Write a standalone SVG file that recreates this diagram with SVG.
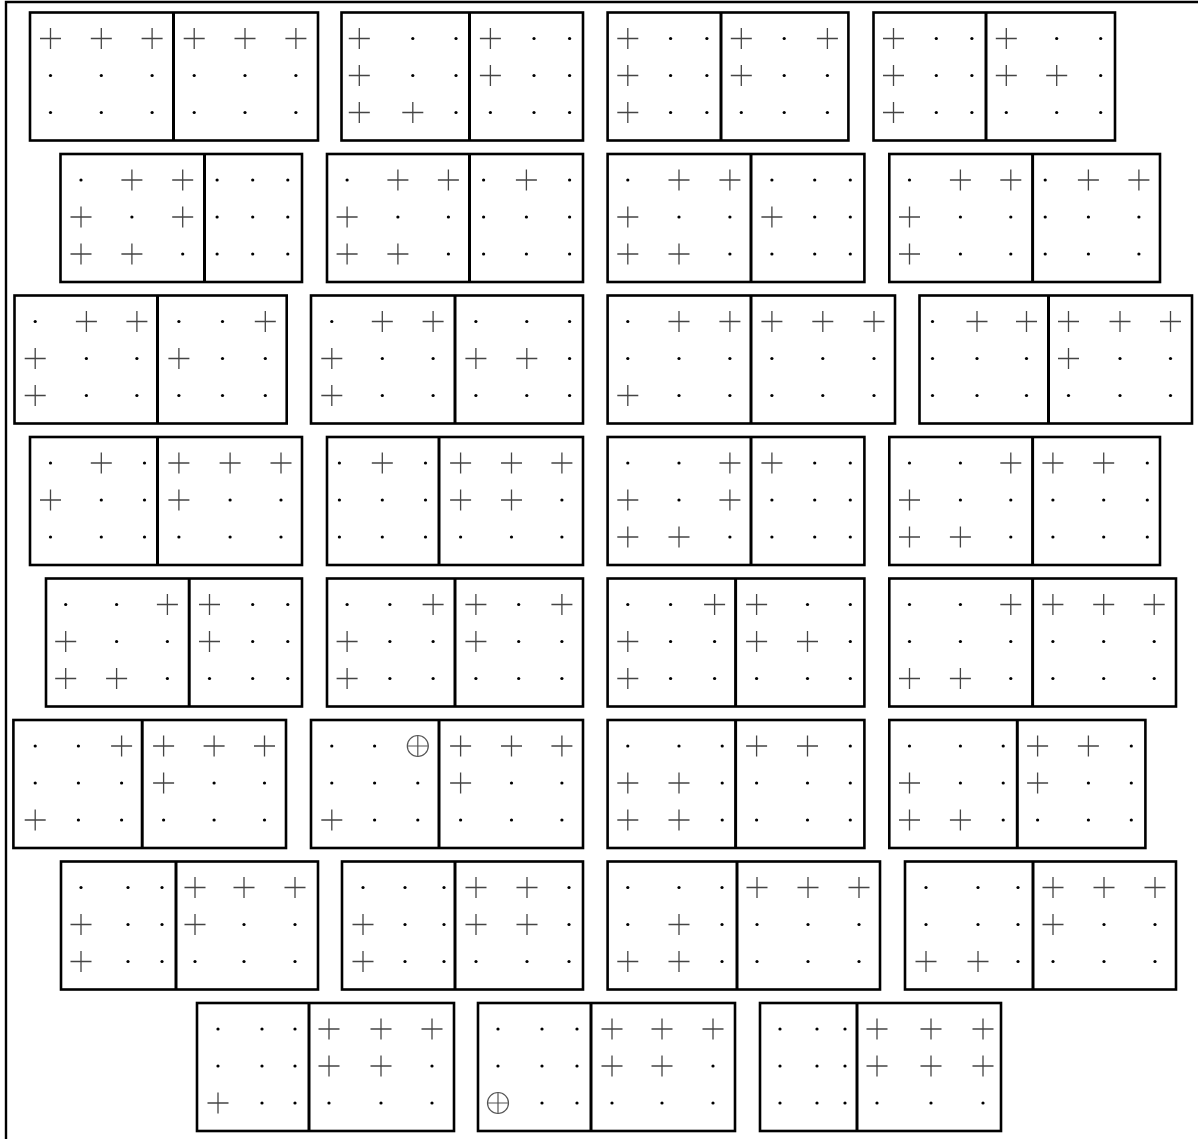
<svg xmlns="http://www.w3.org/2000/svg" xmlns:xlink="http://www.w3.org/1999/xlink" width="1198" height="1139" viewBox="0 0 1198 1139">
<style>
.bx{fill:#fff;stroke:#000;stroke-width:2.6}
.dv{stroke:#000;stroke-width:3}
.fr{stroke:#000;stroke-width:2.4;fill:none}
</style>
<defs>
<path id="p" d="M-10.5 0H10.5M0-10.5V10.5" stroke="#444" stroke-width="1.3" fill="none"/>
<circle id="d" r="1.6" fill="#000"/>
<g id="o" stroke="#555" stroke-width="1.2" fill="none"><circle r="10.5"/><path d="M-10.5 0H10.5M0-10.5V10.5"/></g>
</defs>
<rect width="1198" height="1139" fill="#fff"/>
<g id="frame"><path class="fr" d="M6 1139V2H1198"/></g>
<g id="connectors"></g>

<g id="b1a" transform="translate(0,12.5)"><rect class="bx" x="30" y="0" width="288" height="128"/><line class="dv" x1="173.5" y1="0" x2="173.5" y2="128"/>
<use href="#p" x="50.5" y="26"/><use href="#p" x="101.3" y="26"/><use href="#p" x="152.1" y="26"/><use href="#p" x="194.2" y="26"/><use href="#p" x="245" y="26"/><use href="#p" x="295.9" y="26"/>
<use href="#d" x="50.5" y="63"/><use href="#d" x="101.3" y="63"/><use href="#d" x="152.1" y="63"/><use href="#d" x="194.2" y="63"/><use href="#d" x="245" y="63"/><use href="#d" x="295.9" y="63"/>
<use href="#d" x="50.5" y="100"/><use href="#d" x="101.3" y="100"/><use href="#d" x="152.1" y="100"/><use href="#d" x="194.2" y="100"/><use href="#d" x="245" y="100"/><use href="#d" x="295.9" y="100"/></g>

<g id="b1b" transform="translate(0,12.5)"><rect class="bx" x="341.5" y="0" width="241.5" height="128"/><line class="dv" x1="469.5" y1="0" x2="469.5" y2="128"/>
<use href="#p" x="359.3" y="26"/><use href="#d" x="412.8" y="26"/><use href="#d" x="456" y="26"/><use href="#p" x="490.4" y="26"/><use href="#d" x="534" y="26"/><use href="#d" x="569.6" y="26"/>
<use href="#p" x="359.3" y="63"/><use href="#d" x="412.8" y="63"/><use href="#d" x="456" y="63"/><use href="#p" x="490.4" y="63"/><use href="#d" x="534" y="63"/><use href="#d" x="569.6" y="63"/>
<use href="#p" x="359.3" y="100"/><use href="#p" x="412.8" y="100"/><use href="#d" x="456" y="100"/><use href="#d" x="490.4" y="100"/><use href="#d" x="534" y="100"/><use href="#d" x="569.6" y="100"/></g>

<g id="b1c" transform="translate(0,12.5)"><rect class="bx" x="607.6" y="0" width="240.8" height="128"/><line class="dv" x1="721" y1="0" x2="721" y2="128"/>
<use href="#p" x="627.8" y="26"/><use href="#d" x="670.6" y="26"/><use href="#d" x="706.9" y="26"/><use href="#p" x="741.3" y="26"/><use href="#d" x="784.2" y="26"/><use href="#p" x="827.4" y="26"/>
<use href="#p" x="627.8" y="63"/><use href="#d" x="670.6" y="63"/><use href="#d" x="706.9" y="63"/><use href="#p" x="741.3" y="63"/><use href="#d" x="784.2" y="63"/><use href="#d" x="827.4" y="63"/>
<use href="#p" x="627.8" y="100"/><use href="#d" x="670.6" y="100"/><use href="#d" x="706.9" y="100"/><use href="#d" x="741.3" y="100"/><use href="#d" x="784.2" y="100"/><use href="#d" x="827.4" y="100"/></g>

<g id="b1d" transform="translate(0,12.5)"><rect class="bx" x="873.5" y="0" width="241.5" height="128"/><line class="dv" x1="986" y1="0" x2="986" y2="128"/>
<use href="#p" x="893.5" y="26"/><use href="#d" x="936.3" y="26"/><use href="#d" x="971.9" y="26"/><use href="#p" x="1006.3" y="26"/><use href="#d" x="1056.7" y="26"/><use href="#d" x="1100.7" y="26"/>
<use href="#p" x="893.5" y="63"/><use href="#d" x="936.3" y="63"/><use href="#d" x="971.9" y="63"/><use href="#p" x="1006.3" y="63"/><use href="#p" x="1056.7" y="63"/><use href="#d" x="1100.7" y="63"/>
<use href="#p" x="893.5" y="100"/><use href="#d" x="936.3" y="100"/><use href="#d" x="971.9" y="100"/><use href="#d" x="1006.3" y="100"/><use href="#d" x="1056.7" y="100"/><use href="#d" x="1100.7" y="100"/></g>

<g id="b2a" transform="translate(0,154)"><rect class="bx" x="60.5" y="0" width="241.5" height="128"/><line class="dv" x1="204.5" y1="0" x2="204.5" y2="128"/>
<use href="#d" x="81" y="26"/><use href="#p" x="131.9" y="26"/><use href="#p" x="182.7" y="26"/><use href="#d" x="217.1" y="26"/><use href="#d" x="252.7" y="26"/><use href="#d" x="287.8" y="26"/>
<use href="#p" x="81" y="63"/><use href="#d" x="131.9" y="63"/><use href="#p" x="182.7" y="63"/><use href="#d" x="217.1" y="63"/><use href="#d" x="252.7" y="63"/><use href="#d" x="287.8" y="63"/>
<use href="#p" x="81" y="100"/><use href="#p" x="131.9" y="100"/><use href="#d" x="182.7" y="100"/><use href="#d" x="217.1" y="100"/><use href="#d" x="252.7" y="100"/><use href="#d" x="287.8" y="100"/></g>

<g id="b2b" transform="translate(0,154)"><rect class="bx" x="327" y="0" width="256" height="128"/><line class="dv" x1="469.5" y1="0" x2="469.5" y2="128"/>
<use href="#d" x="347.1" y="26"/><use href="#p" x="397.9" y="26"/><use href="#p" x="448.4" y="26"/><use href="#d" x="483.6" y="26"/><use href="#p" x="526.4" y="26"/><use href="#d" x="569.6" y="26"/>
<use href="#p" x="347.1" y="63"/><use href="#d" x="397.9" y="63"/><use href="#d" x="448.4" y="63"/><use href="#d" x="483.6" y="63"/><use href="#d" x="526.4" y="63"/><use href="#d" x="569.6" y="63"/>
<use href="#p" x="347.1" y="100"/><use href="#p" x="397.9" y="100"/><use href="#d" x="448.4" y="100"/><use href="#d" x="483.6" y="100"/><use href="#d" x="526.4" y="100"/><use href="#d" x="569.6" y="100"/></g>

<g id="b2c" transform="translate(0,154)"><rect class="bx" x="607.6" y="0" width="256.8" height="128"/><line class="dv" x1="751" y1="0" x2="751" y2="128"/>
<use href="#d" x="627.8" y="26"/><use href="#p" x="679" y="26"/><use href="#p" x="729.9" y="26"/><use href="#d" x="771.9" y="26"/><use href="#d" x="814.7" y="26"/><use href="#d" x="850.3" y="26"/>
<use href="#p" x="627.8" y="63"/><use href="#d" x="679" y="63"/><use href="#d" x="729.9" y="63"/><use href="#p" x="771.9" y="63"/><use href="#d" x="814.7" y="63"/><use href="#d" x="850.3" y="63"/>
<use href="#p" x="627.8" y="100"/><use href="#p" x="679" y="100"/><use href="#d" x="729.9" y="100"/><use href="#d" x="771.9" y="100"/><use href="#d" x="814.7" y="100"/><use href="#d" x="850.3" y="100"/></g>

<g id="b2d" transform="translate(0,154)"><rect class="bx" x="889.3" y="0" width="270.7" height="128"/><line class="dv" x1="1032.6" y1="0" x2="1032.6" y2="128"/>
<use href="#d" x="909.5" y="26"/><use href="#p" x="960.4" y="26"/><use href="#p" x="1010.8" y="26"/><use href="#d" x="1045.2" y="26"/><use href="#p" x="1088.4" y="26"/><use href="#p" x="1138.9" y="26"/>
<use href="#p" x="909.5" y="63"/><use href="#d" x="960.4" y="63"/><use href="#d" x="1010.8" y="63"/><use href="#d" x="1045.2" y="63"/><use href="#d" x="1088.4" y="63"/><use href="#d" x="1138.9" y="63"/>
<use href="#p" x="909.5" y="100"/><use href="#d" x="960.4" y="100"/><use href="#d" x="1010.8" y="100"/><use href="#d" x="1045.2" y="100"/><use href="#d" x="1088.4" y="100"/><use href="#d" x="1138.9" y="100"/></g>

<g id="b3a" transform="translate(0,295.5)"><rect class="bx" x="14.5" y="0" width="272.2" height="128"/><line class="dv" x1="157.5" y1="0" x2="157.5" y2="128"/>
<use href="#d" x="35.2" y="26"/><use href="#p" x="86.4" y="26"/><use href="#p" x="136.9" y="26"/><use href="#d" x="178.9" y="26"/><use href="#d" x="222.5" y="26"/><use href="#p" x="265.3" y="26"/>
<use href="#p" x="35.2" y="63"/><use href="#d" x="86.4" y="63"/><use href="#d" x="136.9" y="63"/><use href="#p" x="178.9" y="63"/><use href="#d" x="222.5" y="63"/><use href="#d" x="265.3" y="63"/>
<use href="#p" x="35.2" y="100"/><use href="#d" x="86.4" y="100"/><use href="#d" x="136.9" y="100"/><use href="#d" x="178.9" y="100"/><use href="#d" x="222.5" y="100"/><use href="#d" x="265.3" y="100"/></g>

<g id="b3b" transform="translate(0,295.5)"><rect class="bx" x="311" y="0" width="272" height="128"/><line class="dv" x1="455" y1="0" x2="455" y2="128"/>
<use href="#d" x="331.8" y="26"/><use href="#p" x="382.3" y="26"/><use href="#p" x="433.1" y="26"/><use href="#d" x="475.9" y="26"/><use href="#d" x="526.8" y="26"/><use href="#d" x="569.6" y="26"/>
<use href="#p" x="331.8" y="63"/><use href="#d" x="382.3" y="63"/><use href="#d" x="433.1" y="63"/><use href="#p" x="475.9" y="63"/><use href="#p" x="526.8" y="63"/><use href="#d" x="569.6" y="63"/>
<use href="#p" x="331.8" y="100"/><use href="#d" x="382.3" y="100"/><use href="#d" x="433.1" y="100"/><use href="#d" x="475.9" y="100"/><use href="#d" x="526.8" y="100"/><use href="#d" x="569.6" y="100"/></g>

<g id="b3c" transform="translate(0,295.5)"><rect class="bx" x="607.6" y="0" width="287.4" height="128"/><line class="dv" x1="751" y1="0" x2="751" y2="128"/>
<use href="#d" x="627.8" y="26"/><use href="#p" x="679" y="26"/><use href="#p" x="729.9" y="26"/><use href="#p" x="771.9" y="26"/><use href="#p" x="822.8" y="26"/><use href="#p" x="874" y="26"/>
<use href="#d" x="627.8" y="63"/><use href="#d" x="679" y="63"/><use href="#d" x="729.9" y="63"/><use href="#d" x="771.9" y="63"/><use href="#d" x="822.8" y="63"/><use href="#d" x="874" y="63"/>
<use href="#p" x="627.8" y="100"/><use href="#d" x="679" y="100"/><use href="#d" x="729.9" y="100"/><use href="#d" x="771.9" y="100"/><use href="#d" x="822.8" y="100"/><use href="#d" x="874" y="100"/></g>

<g id="b3d" transform="translate(0,295.5)"><rect class="bx" x="919.5" y="0" width="272.5" height="128"/><line class="dv" x1="1048.5" y1="0" x2="1048.5" y2="128"/>
<use href="#d" x="932.5" y="26"/><use href="#p" x="977" y="26"/><use href="#p" x="1026.5" y="26"/><use href="#p" x="1068.5" y="26"/><use href="#p" x="1120" y="26"/><use href="#p" x="1170.5" y="26"/>
<use href="#d" x="932.5" y="63"/><use href="#d" x="977" y="63"/><use href="#d" x="1026.5" y="63"/><use href="#p" x="1068.5" y="63"/><use href="#d" x="1120" y="63"/><use href="#d" x="1170.5" y="63"/>
<use href="#d" x="932.5" y="100"/><use href="#d" x="977" y="100"/><use href="#d" x="1026.5" y="100"/><use href="#d" x="1068.5" y="100"/><use href="#d" x="1120" y="100"/><use href="#d" x="1170.5" y="100"/></g>

<g id="b4a" transform="translate(0,437)"><rect class="bx" x="30" y="0" width="272" height="128"/><line class="dv" x1="157.5" y1="0" x2="157.5" y2="128"/>
<use href="#d" x="50.5" y="26"/><use href="#p" x="101.3" y="26"/><use href="#d" x="144.5" y="26"/><use href="#p" x="178.9" y="26"/><use href="#p" x="230.1" y="26"/><use href="#p" x="281" y="26"/>
<use href="#p" x="50.5" y="63"/><use href="#d" x="101.3" y="63"/><use href="#d" x="144.5" y="63"/><use href="#p" x="178.9" y="63"/><use href="#d" x="230.1" y="63"/><use href="#d" x="281" y="63"/>
<use href="#d" x="50.5" y="100"/><use href="#d" x="101.3" y="100"/><use href="#d" x="144.5" y="100"/><use href="#d" x="178.9" y="100"/><use href="#d" x="230.1" y="100"/><use href="#d" x="281" y="100"/></g>

<g id="b4b" transform="translate(0,437)"><rect class="bx" x="327" y="0" width="256" height="128"/><line class="dv" x1="439" y1="0" x2="439" y2="128"/>
<use href="#d" x="339.4" y="26"/><use href="#p" x="382.3" y="26"/><use href="#d" x="425.5" y="26"/><use href="#p" x="460.6" y="26"/><use href="#p" x="511.5" y="26"/><use href="#p" x="561.9" y="26"/>
<use href="#d" x="339.4" y="63"/><use href="#d" x="382.3" y="63"/><use href="#d" x="425.5" y="63"/><use href="#p" x="460.6" y="63"/><use href="#p" x="511.5" y="63"/><use href="#d" x="561.9" y="63"/>
<use href="#d" x="339.4" y="100"/><use href="#d" x="382.3" y="100"/><use href="#d" x="425.5" y="100"/><use href="#d" x="460.6" y="100"/><use href="#d" x="511.5" y="100"/><use href="#d" x="561.9" y="100"/></g>

<g id="b4c" transform="translate(0,437)"><rect class="bx" x="607.6" y="0" width="256.8" height="128"/><line class="dv" x1="751" y1="0" x2="751" y2="128"/>
<use href="#d" x="627.8" y="26"/><use href="#d" x="679" y="26"/><use href="#p" x="729.9" y="26"/><use href="#p" x="771.9" y="26"/><use href="#d" x="814.7" y="26"/><use href="#d" x="850.3" y="26"/>
<use href="#p" x="627.8" y="63"/><use href="#d" x="679" y="63"/><use href="#p" x="729.9" y="63"/><use href="#d" x="771.9" y="63"/><use href="#d" x="814.7" y="63"/><use href="#d" x="850.3" y="63"/>
<use href="#p" x="627.8" y="100"/><use href="#p" x="679" y="100"/><use href="#d" x="729.9" y="100"/><use href="#d" x="771.9" y="100"/><use href="#d" x="814.7" y="100"/><use href="#d" x="850.3" y="100"/></g>

<g id="b4d" transform="translate(0,437)"><rect class="bx" x="889.3" y="0" width="270.7" height="128"/><line class="dv" x1="1032.6" y1="0" x2="1032.6" y2="128"/>
<use href="#d" x="909.5" y="26"/><use href="#d" x="960.4" y="26"/><use href="#p" x="1010.8" y="26"/><use href="#p" x="1052.9" y="26"/><use href="#p" x="1103.7" y="26"/><use href="#d" x="1147.3" y="26"/>
<use href="#p" x="909.5" y="63"/><use href="#d" x="960.4" y="63"/><use href="#d" x="1010.8" y="63"/><use href="#d" x="1052.9" y="63"/><use href="#d" x="1103.7" y="63"/><use href="#d" x="1147.3" y="63"/>
<use href="#p" x="909.5" y="100"/><use href="#p" x="960.4" y="100"/><use href="#d" x="1010.8" y="100"/><use href="#d" x="1052.9" y="100"/><use href="#d" x="1103.7" y="100"/><use href="#d" x="1147.3" y="100"/></g>

<g id="b5a" transform="translate(0,578.5)"><rect class="bx" x="46" y="0" width="256" height="128"/><line class="dv" x1="189.2" y1="0" x2="189.2" y2="128"/>
<use href="#d" x="65.7" y="26"/><use href="#d" x="116.6" y="26"/><use href="#p" x="167.4" y="26"/><use href="#p" x="209.5" y="26"/><use href="#d" x="252.7" y="26"/><use href="#d" x="287.8" y="26"/>
<use href="#p" x="65.7" y="63"/><use href="#d" x="116.6" y="63"/><use href="#d" x="167.4" y="63"/><use href="#p" x="209.5" y="63"/><use href="#d" x="252.7" y="63"/><use href="#d" x="287.8" y="63"/>
<use href="#p" x="65.7" y="100"/><use href="#p" x="116.6" y="100"/><use href="#d" x="167.4" y="100"/><use href="#d" x="209.5" y="100"/><use href="#d" x="252.7" y="100"/><use href="#d" x="287.8" y="100"/></g>

<g id="b5b" transform="translate(0,578.5)"><rect class="bx" x="327" y="0" width="256" height="128"/><line class="dv" x1="455" y1="0" x2="455" y2="128"/>
<use href="#d" x="347.1" y="26"/><use href="#d" x="389.9" y="26"/><use href="#p" x="433.1" y="26"/><use href="#p" x="475.9" y="26"/><use href="#d" x="518.7" y="26"/><use href="#p" x="561.9" y="26"/>
<use href="#p" x="347.1" y="63"/><use href="#d" x="389.9" y="63"/><use href="#d" x="433.1" y="63"/><use href="#p" x="475.9" y="63"/><use href="#d" x="518.7" y="63"/><use href="#d" x="561.9" y="63"/>
<use href="#p" x="347.1" y="100"/><use href="#d" x="389.9" y="100"/><use href="#d" x="433.1" y="100"/><use href="#d" x="475.9" y="100"/><use href="#d" x="518.7" y="100"/><use href="#d" x="561.9" y="100"/></g>

<g id="b5c" transform="translate(0,578.5)"><rect class="bx" x="607.6" y="0" width="256.8" height="128"/><line class="dv" x1="735.6" y1="0" x2="735.6" y2="128"/>
<use href="#d" x="627.8" y="26"/><use href="#d" x="670.6" y="26"/><use href="#p" x="714.6" y="26"/><use href="#p" x="756.6" y="26"/><use href="#d" x="807.5" y="26"/><use href="#d" x="850.3" y="26"/>
<use href="#p" x="627.8" y="63"/><use href="#d" x="670.6" y="63"/><use href="#d" x="714.6" y="63"/><use href="#p" x="756.6" y="63"/><use href="#p" x="807.5" y="63"/><use href="#d" x="850.3" y="63"/>
<use href="#p" x="627.8" y="100"/><use href="#d" x="670.6" y="100"/><use href="#d" x="714.6" y="100"/><use href="#d" x="756.6" y="100"/><use href="#d" x="807.5" y="100"/><use href="#d" x="850.3" y="100"/></g>

<g id="b5d" transform="translate(0,578.5)"><rect class="bx" x="889.3" y="0" width="286.7" height="128"/><line class="dv" x1="1032.6" y1="0" x2="1032.6" y2="128"/>
<use href="#d" x="909.5" y="26"/><use href="#d" x="960.4" y="26"/><use href="#p" x="1010.8" y="26"/><use href="#p" x="1052.9" y="26"/><use href="#p" x="1103.7" y="26"/><use href="#p" x="1154.2" y="26"/>
<use href="#d" x="909.5" y="63"/><use href="#d" x="960.4" y="63"/><use href="#d" x="1010.8" y="63"/><use href="#d" x="1052.9" y="63"/><use href="#d" x="1103.7" y="63"/><use href="#d" x="1154.2" y="63"/>
<use href="#p" x="909.5" y="100"/><use href="#p" x="960.4" y="100"/><use href="#d" x="1010.8" y="100"/><use href="#d" x="1052.9" y="100"/><use href="#d" x="1103.7" y="100"/><use href="#d" x="1154.2" y="100"/></g>

<g id="b6a" transform="translate(0,720)"><rect class="bx" x="13.4" y="0" width="272.6" height="128"/><line class="dv" x1="142.2" y1="0" x2="142.2" y2="128"/>
<use href="#d" x="35.2" y="26"/><use href="#d" x="78.4" y="26"/><use href="#p" x="121.6" y="26"/><use href="#p" x="163.6" y="26"/><use href="#p" x="214.1" y="26"/><use href="#p" x="264.5" y="26"/>
<use href="#d" x="35.2" y="63"/><use href="#d" x="78.4" y="63"/><use href="#d" x="121.6" y="63"/><use href="#p" x="163.6" y="63"/><use href="#d" x="214.1" y="63"/><use href="#d" x="264.5" y="63"/>
<use href="#p" x="35.2" y="100"/><use href="#d" x="78.4" y="100"/><use href="#d" x="121.6" y="100"/><use href="#d" x="163.6" y="100"/><use href="#d" x="214.1" y="100"/><use href="#d" x="264.5" y="100"/></g>

<g id="b6b" transform="translate(0,720)"><rect class="bx" x="311" y="0" width="272" height="128"/><line class="dv" x1="439" y1="0" x2="439" y2="128"/>
<use href="#d" x="331.8" y="26"/><use href="#d" x="374.6" y="26"/><use href="#o" x="417.8" y="26"/><use href="#p" x="460.6" y="26"/><use href="#p" x="511.5" y="26"/><use href="#p" x="561.9" y="26"/>
<use href="#d" x="331.8" y="63"/><use href="#d" x="374.6" y="63"/><use href="#d" x="417.8" y="63"/><use href="#p" x="460.6" y="63"/><use href="#d" x="511.5" y="63"/><use href="#d" x="561.9" y="63"/>
<use href="#p" x="331.8" y="100"/><use href="#d" x="374.6" y="100"/><use href="#d" x="417.8" y="100"/><use href="#d" x="460.6" y="100"/><use href="#d" x="511.5" y="100"/><use href="#d" x="561.9" y="100"/></g>

<g id="b6c" transform="translate(0,720)"><rect class="bx" x="607.6" y="0" width="256.8" height="128"/><line class="dv" x1="735.6" y1="0" x2="735.6" y2="128"/>
<use href="#d" x="627.8" y="26"/><use href="#d" x="679" y="26"/><use href="#d" x="722.2" y="26"/><use href="#p" x="756.6" y="26"/><use href="#p" x="807.5" y="26"/><use href="#d" x="850.3" y="26"/>
<use href="#p" x="627.8" y="63"/><use href="#p" x="679" y="63"/><use href="#d" x="722.2" y="63"/><use href="#d" x="756.6" y="63"/><use href="#d" x="807.5" y="63"/><use href="#d" x="850.3" y="63"/>
<use href="#p" x="627.8" y="100"/><use href="#p" x="679" y="100"/><use href="#d" x="722.2" y="100"/><use href="#d" x="756.6" y="100"/><use href="#d" x="807.5" y="100"/><use href="#d" x="850.3" y="100"/></g>

<g id="b6d" transform="translate(0,720)"><rect class="bx" x="889.3" y="0" width="256.1" height="128"/><line class="dv" x1="1017.3" y1="0" x2="1017.3" y2="128"/>
<use href="#d" x="909.5" y="26"/><use href="#d" x="960.4" y="26"/><use href="#d" x="1003.2" y="26"/><use href="#p" x="1037.6" y="26"/><use href="#p" x="1088.4" y="26"/><use href="#d" x="1131.3" y="26"/>
<use href="#p" x="909.5" y="63"/><use href="#d" x="960.4" y="63"/><use href="#d" x="1003.2" y="63"/><use href="#p" x="1037.6" y="63"/><use href="#d" x="1088.4" y="63"/><use href="#d" x="1131.3" y="63"/>
<use href="#p" x="909.5" y="100"/><use href="#p" x="960.4" y="100"/><use href="#d" x="1003.2" y="100"/><use href="#d" x="1037.6" y="100"/><use href="#d" x="1088.4" y="100"/><use href="#d" x="1131.3" y="100"/></g>

<g id="b7a" transform="translate(0,861.5)"><rect class="bx" x="61" y="0" width="257" height="128"/><line class="dv" x1="176" y1="0" x2="176" y2="128"/>
<use href="#d" x="81" y="26"/><use href="#d" x="128" y="26"/><use href="#d" x="162" y="26"/><use href="#p" x="195" y="26"/><use href="#p" x="244" y="26"/><use href="#p" x="295" y="26"/>
<use href="#p" x="81" y="63"/><use href="#d" x="128" y="63"/><use href="#d" x="162" y="63"/><use href="#p" x="195" y="63"/><use href="#d" x="244" y="63"/><use href="#d" x="295" y="63"/>
<use href="#p" x="81" y="100"/><use href="#d" x="128" y="100"/><use href="#d" x="162" y="100"/><use href="#d" x="195" y="100"/><use href="#d" x="244" y="100"/><use href="#d" x="295" y="100"/></g>

<g id="b7b" transform="translate(0,861.5)"><rect class="bx" x="342" y="0" width="241" height="128"/><line class="dv" x1="455" y1="0" x2="455" y2="128"/>
<use href="#d" x="363" y="26"/><use href="#d" x="405" y="26"/><use href="#d" x="444" y="26"/><use href="#p" x="476" y="26"/><use href="#p" x="527" y="26"/><use href="#d" x="569" y="26"/>
<use href="#p" x="363" y="63"/><use href="#d" x="405" y="63"/><use href="#d" x="444" y="63"/><use href="#p" x="476" y="63"/><use href="#p" x="527" y="63"/><use href="#d" x="569" y="63"/>
<use href="#p" x="363" y="100"/><use href="#d" x="405" y="100"/><use href="#d" x="444" y="100"/><use href="#d" x="476" y="100"/><use href="#d" x="527" y="100"/><use href="#d" x="569" y="100"/></g>

<g id="b7c" transform="translate(0,861.5)"><rect class="bx" x="607.6" y="0" width="272.4" height="128"/><line class="dv" x1="737" y1="0" x2="737" y2="128"/>
<use href="#d" x="627.8" y="26"/><use href="#d" x="679" y="26"/><use href="#d" x="722" y="26"/><use href="#p" x="757" y="26"/><use href="#p" x="808" y="26"/><use href="#p" x="859" y="26"/>
<use href="#d" x="627.8" y="63"/><use href="#p" x="679" y="63"/><use href="#d" x="722" y="63"/><use href="#d" x="757" y="63"/><use href="#d" x="808" y="63"/><use href="#d" x="859" y="63"/>
<use href="#p" x="627.8" y="100"/><use href="#p" x="679" y="100"/><use href="#d" x="722" y="100"/><use href="#d" x="757" y="100"/><use href="#d" x="808" y="100"/><use href="#d" x="859" y="100"/></g>

<g id="b7d" transform="translate(0,861.5)"><rect class="bx" x="905" y="0" width="271" height="128"/><line class="dv" x1="1033" y1="0" x2="1033" y2="128"/>
<use href="#d" x="926" y="26"/><use href="#d" x="978" y="26"/><use href="#d" x="1018" y="26"/><use href="#p" x="1053" y="26"/><use href="#p" x="1104" y="26"/><use href="#p" x="1155" y="26"/>
<use href="#d" x="926" y="63"/><use href="#d" x="978" y="63"/><use href="#d" x="1018" y="63"/><use href="#p" x="1053" y="63"/><use href="#d" x="1104" y="63"/><use href="#d" x="1155" y="63"/>
<use href="#p" x="926" y="100"/><use href="#p" x="978" y="100"/><use href="#d" x="1018" y="100"/><use href="#d" x="1053" y="100"/><use href="#d" x="1104" y="100"/><use href="#d" x="1155" y="100"/></g>

<g id="b8a" transform="translate(0,1003)"><rect class="bx" x="197" y="0" width="257" height="128"/><line class="dv" x1="309" y1="0" x2="309" y2="128"/>
<use href="#d" x="218" y="26"/><use href="#d" x="262" y="26"/><use href="#d" x="295" y="26"/><use href="#p" x="329" y="26"/><use href="#p" x="381" y="26"/><use href="#p" x="432" y="26"/>
<use href="#d" x="218" y="63"/><use href="#d" x="262" y="63"/><use href="#d" x="295" y="63"/><use href="#p" x="329" y="63"/><use href="#p" x="381" y="63"/><use href="#d" x="432" y="63"/>
<use href="#p" x="218" y="100"/><use href="#d" x="262" y="100"/><use href="#d" x="295" y="100"/><use href="#d" x="329" y="100"/><use href="#d" x="381" y="100"/><use href="#d" x="432" y="100"/></g>

<g id="b8b" transform="translate(0,1003)"><rect class="bx" x="478" y="0" width="257" height="128"/><line class="dv" x1="591" y1="0" x2="591" y2="128"/>
<use href="#d" x="498" y="26"/><use href="#d" x="542" y="26"/><use href="#d" x="577" y="26"/><use href="#p" x="612" y="26"/><use href="#p" x="662" y="26"/><use href="#p" x="713" y="26"/>
<use href="#d" x="498" y="63"/><use href="#d" x="542" y="63"/><use href="#d" x="577" y="63"/><use href="#p" x="612" y="63"/><use href="#p" x="662" y="63"/><use href="#d" x="713" y="63"/>
<use href="#o" x="498" y="100"/><use href="#d" x="542" y="100"/><use href="#d" x="577" y="100"/><use href="#d" x="612" y="100"/><use href="#d" x="662" y="100"/><use href="#d" x="713" y="100"/></g>

<g id="b8c" transform="translate(0,1003)"><rect class="bx" x="760" y="0" width="241" height="128"/><line class="dv" x1="857" y1="0" x2="857" y2="128"/>
<use href="#d" x="780" y="26"/><use href="#d" x="817" y="26"/><use href="#d" x="845" y="26"/><use href="#p" x="877" y="26"/><use href="#p" x="931" y="26"/><use href="#p" x="983" y="26"/>
<use href="#d" x="780" y="63"/><use href="#d" x="817" y="63"/><use href="#d" x="845" y="63"/><use href="#p" x="877" y="63"/><use href="#p" x="931" y="63"/><use href="#p" x="983" y="63"/>
<use href="#d" x="780" y="100"/><use href="#d" x="817" y="100"/><use href="#d" x="845" y="100"/><use href="#d" x="877" y="100"/><use href="#d" x="931" y="100"/><use href="#d" x="983" y="100"/></g>
</svg>
